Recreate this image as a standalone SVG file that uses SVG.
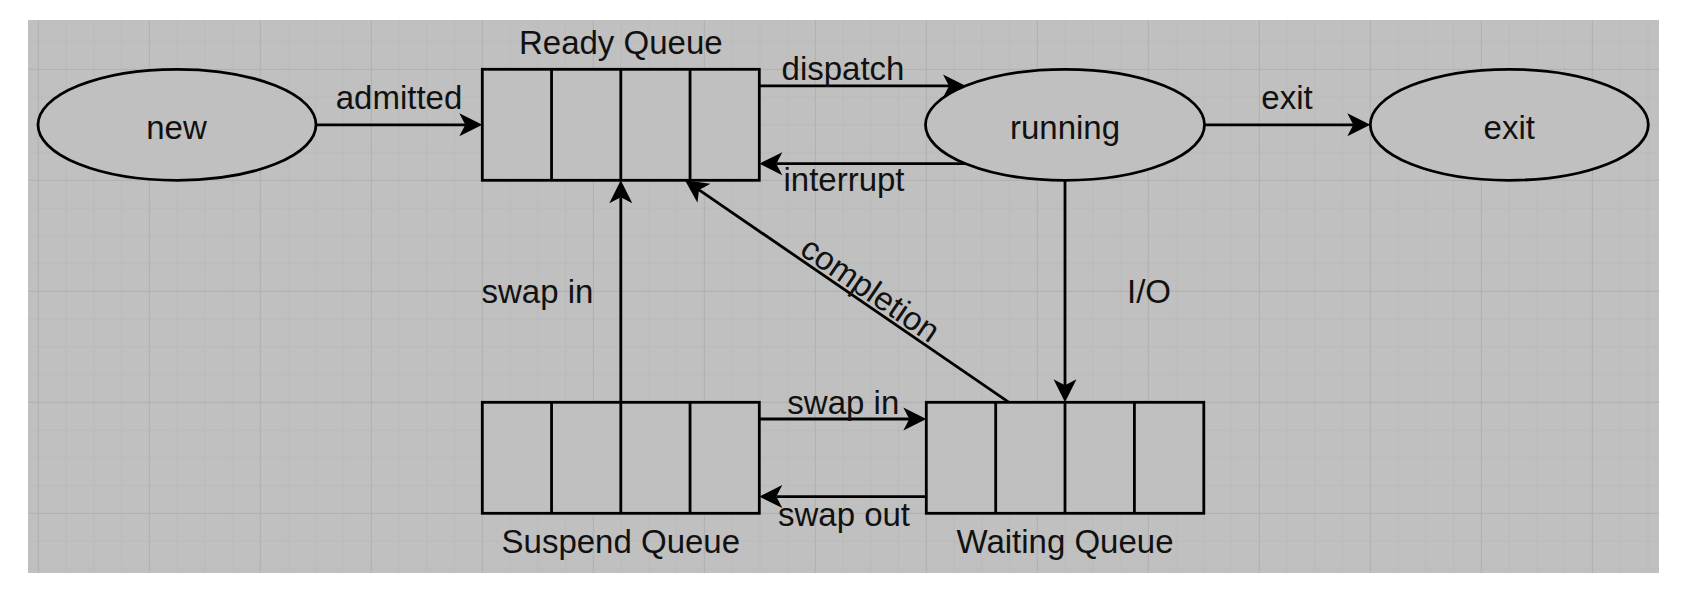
<svg xmlns="http://www.w3.org/2000/svg" width="1682" height="608" viewBox="0 0 1682 608">
  <defs>
    <pattern id="grid" x="37.8" y="68.8" width="111" height="111" patternUnits="userSpaceOnUse">
      <path d="M28.25 0V111M56 0V111M83.75 0V111M0 28.25H111M0 56H111M0 83.75H111" stroke="#bababa" stroke-width="1" fill="none"/>
      <path d="M0.5 0V111M0 0.5H111" stroke="#afafaf" stroke-width="1" fill="none"/>
    </pattern>
    <marker id="arr" markerUnits="userSpaceOnUse" markerWidth="30" markerHeight="30" viewBox="-2 -15 30 30" refX="6" refY="0" orient="auto" overflow="visible">
      <path d="M0 -11.5 L23 0 L0 11.5 L6 0 Z" fill="#000"/>
    </marker>
    <style>
      .shape { fill: #c0c0c0; stroke: #000; stroke-width: 2.8; }
      .div { stroke: #000; stroke-width: 2.8; fill: none; }
      .edge { stroke: #000; stroke-width: 2.8; fill: none; marker-end: url(#arr); }
      text { font-family: "Liberation Sans", Arial, Helvetica, sans-serif; font-size: 33px; fill: #111; text-anchor: middle; }
    </style>
  </defs>

  <rect x="0" y="0" width="1682" height="608" fill="#ffffff"/>
  <rect x="28" y="20" width="1631" height="553" fill="#c0c0c0"/>
  <rect x="28" y="20" width="1631" height="553" fill="url(#grid)"/>

  <g id="connectors">
    <g id="e-admitted">
      <path class="edge" d="M315.8 124.8 H465.3"/>
      <text x="399" y="109">admitted</text>
    </g>
    <g id="e-dispatch">
      <path class="edge" d="M759.3 85.9 H949"/>
      <text x="843" y="80">dispatch</text>
    </g>
    <g id="e-interrupt">
      <path class="edge" d="M966 163.7 H776.3"/>
      <text x="844" y="191">interrupt</text>
    </g>
    <g id="e-exit">
      <path class="edge" d="M1204.6 124.8 H1353.3"/>
      <text x="1287" y="108.5">exit</text>
    </g>
    <g id="e-io">
      <path class="edge" d="M1065 180.3 V385.3"/>
      <text x="1149" y="303">I/O</text>
    </g>
    <g id="e-completion">
      <path class="edge" d="M1009 402.3 L699 189.9"/>
      <text transform="translate(864 298.6) rotate(34.4)" x="0" y="0">completion</text>
    </g>
    <g id="e-swapin-up">
      <path class="edge" d="M620.8 402.3 V197.3"/>
      <text x="537.4" y="303">swap in</text>
    </g>
    <g id="e-swapin">
      <path class="edge" d="M759.3 419 H909.3"/>
      <text x="843.3" y="413.5">swap in</text>
    </g>
    <g id="e-swapout">
      <path class="edge" d="M926.3 496.6 H776.3"/>
      <text x="844" y="525.5">swap out</text>
    </g>
  </g>

  <g id="node-new">
    <ellipse class="shape" cx="177" cy="124.8" rx="139" ry="55.5"/>
    <text x="176.5" y="139">new</text>
  </g>

  <g id="node-ready-queue">
    <rect class="shape" x="482.3" y="69.3" width="277" height="111"/>
    <path class="div" d="M551.55 69.3V180.3M620.8 69.3V180.3M690.05 69.3V180.3"/>
    <text x="620.8" y="54">Ready Queue</text>
  </g>

  <g id="node-running">
    <ellipse class="shape" cx="1065" cy="124.8" rx="139.5" ry="55.5"/>
    <text x="1065" y="139">running</text>
  </g>

  <g id="node-exit">
    <ellipse class="shape" cx="1509.3" cy="124.8" rx="139" ry="55.5"/>
    <text x="1509.3" y="139">exit</text>
  </g>

  <g id="node-suspend-queue">
    <rect class="shape" x="482.3" y="402.3" width="277" height="111"/>
    <path class="div" d="M551.55 402.3V513.3M620.8 402.3V513.3M690.05 402.3V513.3"/>
    <text x="620.8" y="553">Suspend Queue</text>
  </g>

  <g id="node-waiting-queue">
    <rect class="shape" x="926.3" y="402.3" width="277.5" height="111"/>
    <path class="div" d="M995.7 402.3V513.3M1065 402.3V513.3M1134.4 402.3V513.3"/>
    <text x="1065" y="553">Waiting Queue</text>
  </g>
</svg>
